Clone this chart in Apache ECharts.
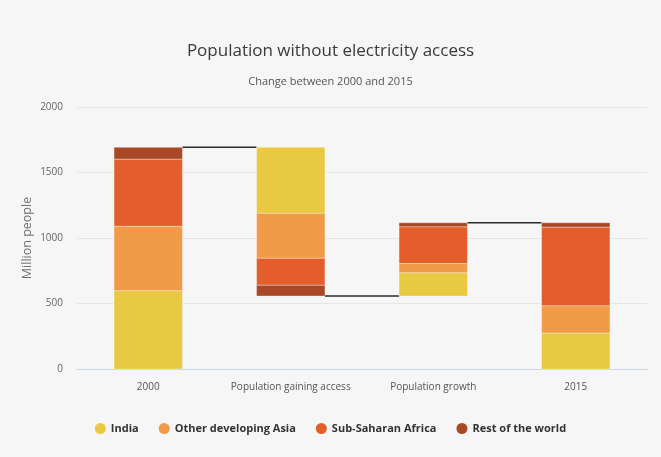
<!DOCTYPE html>
<html>
<head>
<meta charset="utf-8">
<title>Population without electricity access</title>
<script src="https://cdn.jsdelivr.net/npm/echarts@6/dist/echarts.min.js"></script>
<style>
  html, body { margin: 0; padding: 0; background: #f6f6f6; }
  #chart { width: 661px; height: 457px; }
</style>
</head>
<body>
<div id="chart"></div>
<script>
// Categories along the x axis
const categories = ['2000', 'Population gaining access', 'Population growth', '2015'];
// Regions, in stacking order (bottom to top for the 2000 bar)
const regions = ['India', 'Other developing Asia', 'Sub-Saharan Africa', 'Rest of the world'];
const regionColors = ['#e9c842', '#f09b48', '#e45e2c', '#a84824'];
// Million people, per region
const start2000 = [598, 491, 513, 90];
const gainingAccess = [-504, -343, -206, -82];
const populationGrowth = [178, 71, 280, 30];
const end2015 = [275, 208, 600, 33];
// Value axis ticks
const yMin = 0, yMax = 2000, yStep = 500;

const BAR_RATIO = 0.48;

// Build [category, low, high] segments for each region
const segments = regions.map(() => []);
let level = 0;
start2000.forEach((v, r) => { segments[r].push([0, level, level + v]); level += v; });
const total2000 = level;
gainingAccess.forEach((v, r) => { segments[r].push([1, level + v, level]); level += v; });
const afterAccess = level;
populationGrowth.forEach((v, r) => { segments[r].push([2, level, level + v]); level += v; });
const afterGrowth = level;
level = 0;
end2015.forEach((v, r) => { segments[r].push([3, level, level + v]); level += v; });

// Connectors between neighbouring bars: [from category, level]
const connectors = [[0, total2000], [1, afterAccess], [2, afterGrowth]];

function renderSegment(params, api) {
  const c = api.value(0);
  const top = api.coord([c, api.value(2)]);
  const bottom = api.coord([c, api.value(1)]);
  const w = api.size([1, 0])[0] * BAR_RATIO;
  return {
    type: 'rect',
    shape: { x: top[0] - w / 2, y: top[1], width: w, height: bottom[1] - top[1] },
    style: { fill: api.visual('color'), stroke: 'rgba(255,255,255,0.35)', lineWidth: 1 }
  };
}

function renderConnector(params, api) {
  const c = api.value(0);
  const v = api.value(1);
  const a = api.coord([c, v]);
  const b = api.coord([c + 1, v]);
  const half = api.size([1, 0])[0] * BAR_RATIO / 2;
  return {
    type: 'line',
    shape: { x1: a[0] + half, y1: a[1], x2: b[0] - half, y2: b[1] },
    style: { stroke: '#2a2a2a', lineWidth: 1.5 }
  };
}

const font = '"Open Sans", sans-serif';
const chart = echarts.init(document.getElementById('chart'));

const series = regions.map((name, r) => ({
  name: name,
  type: 'custom',
  renderItem: renderSegment,
  itemStyle: { color: regionColors[r] },
  encode: { x: 0, y: [1, 2] },
  data: segments[r],
  z: 3
}));
series.push({
  name: 'connector',
  type: 'custom',
  renderItem: renderConnector,
  encode: { x: 0, y: 1 },
  data: connectors,
  silent: true,
  z: 2
});

chart.setOption({
  backgroundColor: '#f6f6f6',
  animation: false,
  textStyle: { fontFamily: font },
  title: {
    text: 'Population without electricity access',
    subtext: 'Change between 2000 and 2015',
    left: 'center',
    top: 38,
    itemGap: 16,
    textStyle: { fontFamily: font, fontSize: 17, fontWeight: 'normal', color: '#3a3a3a' },
    subtextStyle: { fontFamily: font, fontSize: 11, color: '#555' }
  },
  legend: {
    data: regions,
    bottom: 18,
    left: 'center',
    icon: 'circle',
    itemWidth: 11,
    itemHeight: 11,
    itemGap: 20,
    textStyle: { fontFamily: font, fontSize: 11, fontWeight: 'bold', color: '#333' }
  },
  grid: { left: 77, right: 14, top: 107, bottom: 88 },
  xAxis: {
    type: 'category',
    data: categories,
    boundaryGap: true,
    axisLine: { lineStyle: { color: '#ccd6eb' } },
    axisTick: { length: 11, lineStyle: { color: '#ccd6eb' } },
    axisLabel: { interval: 0, fontFamily: font, fontSize: 10, color: '#555', margin: 13 }
  },
  yAxis: {
    type: 'value',
    min: yMin,
    max: yMax,
    interval: yStep,
    name: 'Million people',
    nameLocation: 'middle',
    nameRotate: 90,
    nameGap: 43,
    nameMoveOverlap: false,
    nameTextStyle: { fontFamily: font, fontSize: 12.5, color: '#707070' },
    axisLine: { show: false },
    axisTick: { show: false },
    axisLabel: { fontFamily: font, fontSize: 10, color: '#666', margin: 14, formatter: (v) => String(v) },
    splitLine: { lineStyle: { color: '#e6e6e6' } }
  },
  series: series
});
</script>
</body>
</html>
